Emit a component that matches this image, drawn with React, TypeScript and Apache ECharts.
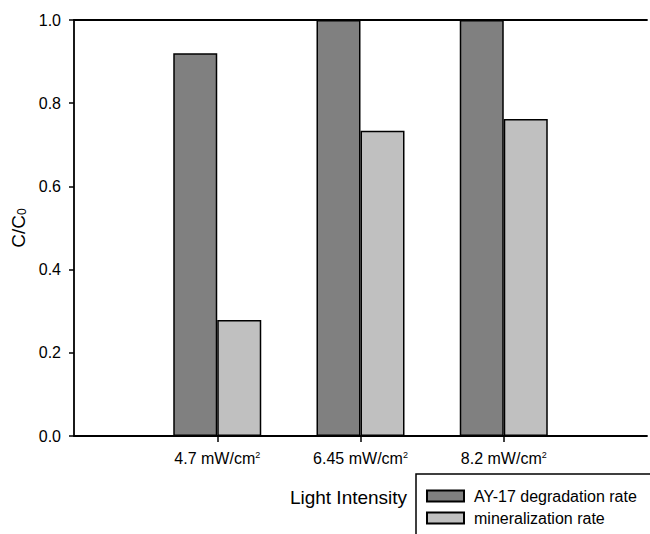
import React, { useEffect, useRef } from "react";
import * as echarts from "echarts";

const categories = ["4.7", "6.45", "8.2"];
const degradation = [0.92, 1.0, 1.0];
const mineralization = [0.279, 0.734, 0.762];
const yTicks = [0, 0.2, 0.4, 0.6, 0.8, 1.0];
const seriesNames = ["AY-17 degradation rate", "mineralization rate"];

export default function App() {
  const ref = useRef<HTMLDivElement>(null);
  useEffect(() => {
    if (!ref.current) return;
    const chart = echarts.init(ref.current, undefined, { renderer: "svg" });
    const axisData = ["", ...categories, ""];
    const pad = (arr: number[]) => ["-", ...arr, "-"];
    const font = "Liberation Sans";
    chart.setOption({
      animation: false,
      textStyle: { fontFamily: font, color: "#000" },
      grid: { left: 74, width: 578, top: 20, bottom: 98 },
      xAxis: [
        {
          type: "category",
          data: axisData,
          boundaryGap: false,
          axisLine: { lineStyle: { color: "#000", width: 1.8 } },
          axisTick: {
            length: 6,
            interval: (_i: number, v: string) => v !== "",
            lineStyle: { color: "#000", width: 1.5 },
          },
          axisLabel: {
            interval: 0,
            margin: 14,
            fontSize: 16,
            color: "#000",
            formatter: (v: string) => (v ? `${v} mW/cm{sup|2}` : ""),
            rich: { sup: { fontSize: 9, verticalAlign: "top", color: "#000" } },
          },
          name: "Light Intensity",
          nameLocation: "middle",
          nameGap: 52,
          nameTextStyle: { fontSize: 19, color: "#000", padding: [0, 24, 0, 0] },
        },
        {
          type: "category",
          data: axisData,
          boundaryGap: false,
          position: "top",
          axisLine: { lineStyle: { color: "#000", width: 1.8 } },
          axisTick: { show: false },
          axisLabel: { show: false },
        },
      ],
      yAxis: {
        type: "value",
        min: 0,
        max: 1,
        interval: 0.2,
        splitLine: { show: false },
        axisLine: { show: true, lineStyle: { color: "#000", width: 1.8 } },
        axisTick: { show: true, length: 5, lineStyle: { color: "#000", width: 1.5 } },
        axisLabel: {
          margin: 13,
          fontSize: 16,
          color: "#000",
          formatter: (v: number) => (yTicks.includes(Math.round(v * 10) / 10) ? v.toFixed(1) : ""),
        },
        name: "C/C{sub|0}",
        nameLocation: "middle",
        nameGap: 45,
        nameTextStyle: {
          fontSize: 19,
          color: "#000",
          rich: { sub: { fontSize: 12, verticalAlign: "bottom", color: "#000" } },
        },
      },
      legend: {
        orient: "vertical",
        left: 426,
        top: 488,
        padding: 0,
        itemWidth: 37,
        itemHeight: 11,
        itemGap: 6,
        icon: "rect",
        textStyle: { fontSize: 16, color: "#000", padding: [0, 0, 0, 5] },
        data: seriesNames,
      },
      graphic: [
        {
          type: "rect",
          shape: { x: 416, y: 474, width: 300, height: 120 },
          style: { fill: "none", stroke: "#000", lineWidth: 1.5 },
          silent: true,
        },
      ],
      series: [
        {
          name: seriesNames[0],
          type: "bar",
          data: pad(degradation),
          barWidth: 44,
          barGap: "0%",
          itemStyle: { color: "#808080", borderColor: "#000", borderWidth: 1.5 },
        },
        {
          name: seriesNames[1],
          type: "bar",
          data: pad(mineralization),
          barWidth: 44,
          barGap: "0%",
          itemStyle: { color: "#c0c0c0", borderColor: "#000", borderWidth: 1.5 },
        },
      ],
    });
    return () => chart.dispose();
  }, []);
  return (
    <div
      ref={ref}
      style={{ position: "absolute", left: 0, top: 0, width: 650, height: 534, background: "#fff" }}
    />
  );
}
